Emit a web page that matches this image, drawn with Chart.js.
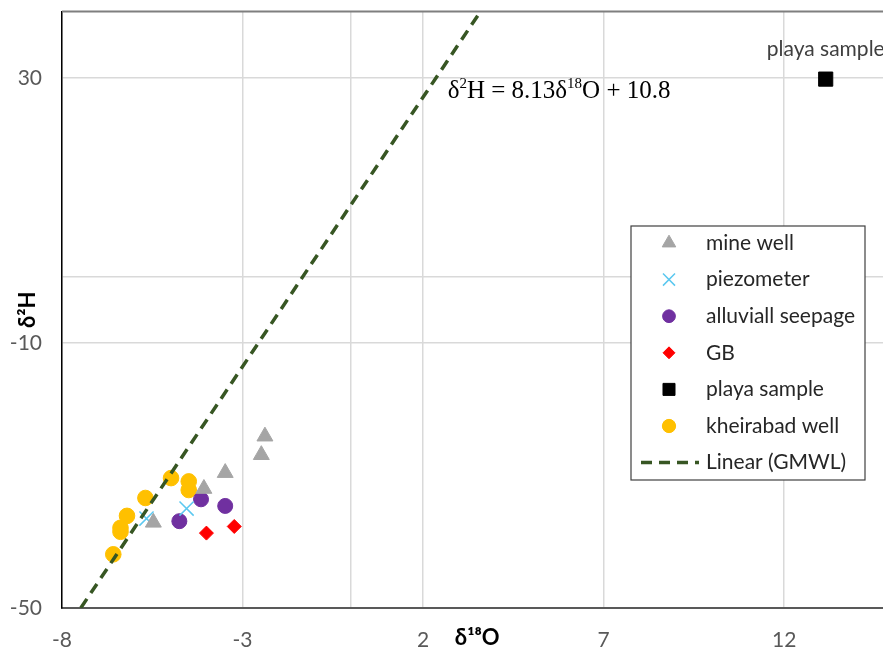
<!DOCTYPE html>
<html>
<head>
<meta charset="utf-8">
<script src="https://cdn.jsdelivr.net/npm/chart.js@4.4.0/dist/chart.umd.min.js"></script>
<style>
  html, body { margin: 0; padding: 0; overflow: hidden; background: #fff; }
  #wrap { width: 904px; height: 651px; }
</style>
</head>
<body>
<div id="wrap"><canvas id="isoChart" width="904" height="651"></canvas></div>
<script>
// values (delta18O, delta2H)
const mineWellX = [-5.47, -4.07, -3.48, -2.48, -2.38];
const mineWellY = [-37.1, -32.0, -29.6, -26.9, -24.1];
const piezoX = [-5.66, -4.55];
const piezoY = [-36.5, -35.0];
const seepageX = [-4.75, -4.15, -3.48];
const seepageY = [-36.9, -33.6, -34.6];
const gbX = [-4.0, -3.23];
const gbY = [-38.7, -37.7];
const playaX = [13.15];
const playaY = [29.8];
const kheirabadX = [-6.58, -6.38, -6.38, -6.20, -5.69, -4.98, -4.49, -4.49];
const kheirabadY = [-41.9, -38.5, -37.9, -36.1, -33.4, -30.4, -30.9, -32.2];
const gmwlX = [-7.48, 3.59];
const gmwlY = [-50, 40];

const xTicks = [-8, -3, 0, 2, 7, 12];
const yTicks = [-50, -10, 0, 30];

const FONT = 'Lato, "Liberation Sans", sans-serif';

function pts(xs, ys) {
  return xs.map((x, i) => ({ x: x, y: ys[i] }));
}

function marker(label, xs, ys, style, color, radius, extra) {
  return Object.assign({
    label: label,
    data: pts(xs, ys),
    pointStyle: style,
    pointRadius: radius,
    pointHoverRadius: radius,
    backgroundColor: color,
    borderColor: color,
    pointBorderWidth: 1,
    showLine: false
  }, extra || {});
}

const datasets = [
  {
    label: 'Linear (GMWL)',
    data: pts(gmwlX, gmwlY),
    showLine: true,
    borderColor: '#375623',
    borderWidth: 3.5,
    borderDash: [11, 7],
    pointRadius: 0,
    fill: false,
    order: -1
  },
  marker('mine well', mineWellX, mineWellY, 'triangle', '#a5a5a5', 9.2),
  marker('piezometer', piezoX, piezoY, 'crossRot', '#5bc8f0', 10, { pointBorderWidth: 1.5 }),
  marker('alluviall seepage', seepageX, seepageY, 'circle', '#7030a0', 7.5),
  marker('GB', gbX, gbY, 'rectRot', '#ff0000', 7),
  marker('playa sample', playaX, playaY, 'rect', '#000000', 10),
  marker('kheirabad well', kheirabadX, kheirabadY, 'circle', '#ffc000', 7.8)
];

// legend order as in the reference
const legendOrder = [1, 2, 3, 4, 5, 6, 0];

// scales should not reserve room for overhanging labels
function noPad(s) {
  s.paddingTop = 0;
  s.paddingBottom = 0;
  s.paddingLeft = 0;
  s.paddingRight = 0;
}

// top frame line of the plot area
const framePlugin = {
  id: 'frame',
  beforeDatasetsDraw(chart) {
    const { ctx, chartArea } = chart;
    ctx.save();
    ctx.strokeStyle = '#7f7f7f';
    ctx.lineWidth = 2;
    ctx.beginPath();
    ctx.moveTo(chartArea.left, chartArea.top);
    ctx.lineTo(chartArea.right, chartArea.top);
    ctx.stroke();
    ctx.restore();
  }
};

// equation and "playa sample" data label
const annotationPlugin = {
  id: 'annotations',
  afterDatasetsDraw(chart) {
    const { ctx, scales } = chart;
    ctx.save();
    // equation, anchored in data units
    let x = scales.x.getPixelForValue(2.68);
    const y = scales.y.getPixelForValue(28.0);
    ctx.fillStyle = '#000';
    ctx.textBaseline = 'middle';
    ctx.textAlign = 'left';
    const parts = [
      ['δ', 0], ['2', 1], ['H = 8.13δ', 0], ['18', 1], ['O + 10.8', 0]
    ];
    parts.forEach(p => {
      if (p[1]) {
        ctx.font = '15px "Liberation Serif", serif';
        ctx.fillText(p[0], x, y - 7);
      } else {
        ctx.font = '25px "Liberation Serif", serif';
        ctx.fillText(p[0], x, y);
      }
      x += ctx.measureText(p[0]).width;
    });

    // data label above the playa point
    const meta = chart.getDatasetMeta(5);
    const el = meta.data[0];
    ctx.font = '21px ' + FONT;
    ctx.fillStyle = '#404040';
    ctx.textAlign = 'center';
    ctx.fillText('playa sample', el.x, el.y - 30);
    ctx.restore();
  }
};

// legend box drawn inside the plot area
const legendPlugin = {
  id: 'insideLegend',
  afterDraw(chart) {
    const { ctx } = chart;
    const box = { x: 631, y: 226, w: 234, h: 254 };
    const rowH = 36.6;
    ctx.save();
    ctx.fillStyle = '#fff';
    ctx.fillRect(box.x, box.y, box.w, box.h);
    ctx.strokeStyle = '#404040';
    ctx.lineWidth = 1.2;
    ctx.strokeRect(box.x, box.y, box.w, box.h);

    legendOrder.forEach((di, i) => {
      const ds = chart.data.datasets[di];
      const cy = box.y + 17 + i * rowH;
      const mx = box.x + 38;
      if (ds.pointRadius === 0) {
        ctx.strokeStyle = ds.borderColor;
        ctx.lineWidth = ds.borderWidth;
        ctx.setLineDash(ds.borderDash);
        ctx.beginPath();
        ctx.moveTo(box.x + 10, cy);
        ctx.lineTo(box.x + 68, cy);
        ctx.stroke();
        ctx.setLineDash([]);
      } else {
        ctx.fillStyle = ds.backgroundColor;
        ctx.strokeStyle = ds.borderColor;
        ctx.lineWidth = ds.pointBorderWidth;
        Chart.helpers.drawPoint(ctx, {
          pointStyle: ds.pointStyle,
          radius: ds.pointRadius * 0.85,
          rotation: 0,
          borderWidth: ds.pointBorderWidth
        }, mx, cy);
      }
      ctx.fillStyle = '#262626';
      ctx.font = '21px ' + FONT;
      ctx.textAlign = 'left';
      ctx.textBaseline = 'middle';
      ctx.fillText(ds.label, box.x + 75, cy);
    });
    ctx.restore();
  }
};

new Chart(document.getElementById('isoChart'), {
  type: 'scatter',
  data: { datasets: datasets },
  plugins: [framePlugin, annotationPlugin, legendPlugin],
  options: {
    responsive: false,
    animation: false,
    layout: { padding: { left: 0, top: 9, right: 2.5, bottom: 0 } },
    plugins: {
      legend: { display: false },
      tooltip: { enabled: false }
    },
    scales: {
      x: {
        type: 'linear',
        min: -8,
        max: 15,
        afterBuildTicks: s => { s.ticks = xTicks.map(v => ({ value: v })); },
        afterFit: s => { s.height = 43; noPad(s); },
        ticks: {
          callback: v => (v === 0 ? '' : v),
          color: '#595959',
          font: { family: FONT, size: 21 },
          padding: 20,
          maxRotation: 0
        },
        grid: { color: '#d9d9d9', lineWidth: 1.5, drawTicks: false },
        border: { color: '#595959', width: 2 },
        title: {
          display: true,
          text: 'δ¹⁸O',
          color: '#000',
          font: { family: FONT, size: 22, weight: 'bold' },
          padding: { top: 0, bottom: 0 }
        }
      },
      y: {
        type: 'linear',
        min: -50,
        max: 40,
        afterBuildTicks: s => { s.ticks = yTicks.map(v => ({ value: v })); },
        afterFit: s => { s.width = 62; noPad(s); },
        ticks: {
          callback: v => (v === 0 ? '' : v),
          color: '#595959',
          font: { family: FONT, size: 21 },
          padding: 20
        },
        grid: { color: '#d9d9d9', lineWidth: 1.5, drawTicks: false },
        border: { color: '#000', width: 1.5 },
        title: {
          display: true,
          text: 'δ²H',
          color: '#000',
          font: { family: FONT, size: 22, weight: 'bold' },
          padding: { top: 15, bottom: 0 }
        }
      }
    }
  }
});
</script>
</body>
</html>
